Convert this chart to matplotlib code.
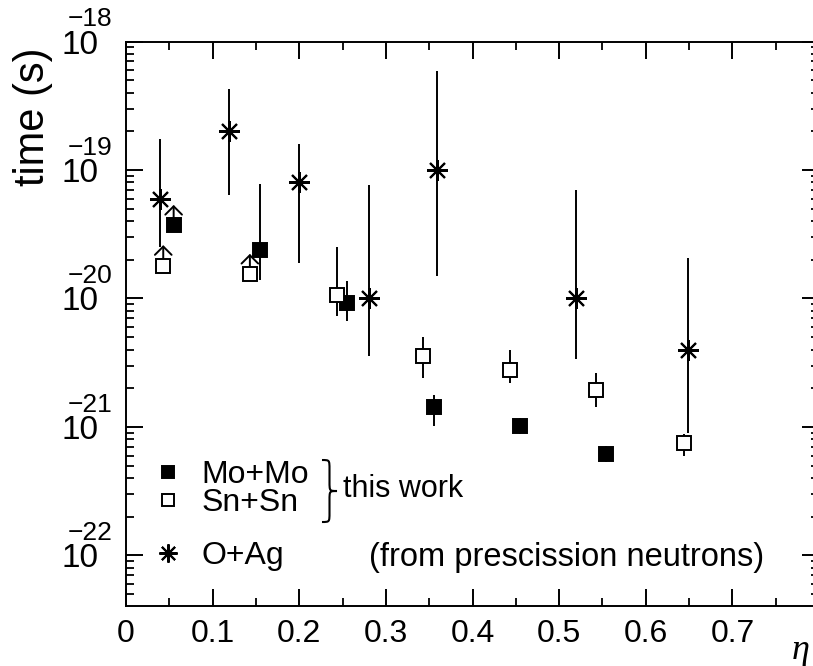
#!/usr/bin/env python

"""
Fission time vs. eta for Mo+Mo, Sn+Sn (this work) and O+Ag (prescission neutrons).
"""

import numpy as np
import matplotlib
matplotlib.use('Agg')
import matplotlib.pyplot as plt
from matplotlib.path import Path
from matplotlib.patches import PathPatch
from matplotlib.ticker import MultipleLocator, LogLocator, FixedLocator, NullFormatter

plt.rcParams.update({
    'figure.dpi': 100,
    'figure.figsize': (8.13, 6.66),
    'font.family': 'Liberation Sans',
    'font.size': 23,
    'axes.linewidth': 1.4,
    'xtick.major.width': 1.4,
    'ytick.major.width': 1.4,
    'xtick.minor.width': 1.3,
    'ytick.minor.width': 1.3,
    'lines.linewidth': 1.4,
})

nan = np.nan

# Mo+Mo (filled squares)
mo_eta = [0.055, 0.155, 0.255, 0.356, 0.455, 0.554]
mo_time = [3.7e-20, 2.4e-20, 9.2e-21, 1.44e-21, 1.02e-21, 6.2e-22]
mo_low = [nan, 1.39e-20, 6.7e-21, 1.02e-21, 8.9e-22, 5.3e-22]
mo_high = [nan, 7.8e-20, 1.37e-20, 1.77e-21, 1.17e-21, 7.1e-22]
mo_lowlim = [True, False, False, False, False, False]

# Sn+Sn (open squares)
sn_eta = [0.043, 0.143, 0.244, 0.343, 0.443, 0.543, 0.644]
sn_time = [1.8e-20, 1.54e-20, 1.06e-20, 3.6e-21, 2.8e-21, 1.94e-21, 7.5e-22]
sn_low = [nan, nan, 7.3e-21, 2.4e-21, 2.2e-21, 1.44e-21, 5.9e-22]
sn_high = [nan, nan, 2.5e-20, 5.0e-21, 4.0e-21, 2.65e-21, 8.9e-22]
sn_lowlim = [True, True, False, False, False, False, False]

# O+Ag (from prescission neutrons)
oag_eta = [0.039, 0.119, 0.200, 0.280, 0.359, 0.519, 0.649]
oag_time = [6e-20, 2e-19, 8e-20, 1e-20, 1e-19, 1e-20, 4e-21]
oag_low = [2.5e-20, 6.4e-20, 1.9e-20, 3.6e-21, 1.5e-20, 3.4e-21, 9e-22]
oag_high = [1.73e-19, 4.3e-19, 1.58e-19, 7.6e-20, 5.9e-19, 7e-20, 2.06e-20]

xticks = [0, 0.1, 0.2, 0.3, 0.4, 0.5, 0.6, 0.7]
xticklabels = ['0', '0.1', '0.2', '0.3', '0.4', '0.5', '0.6', '0.7']
decades = [-22, -21, -20, -19, -18]

ARROW_DEC = 0.16  # length of the lower-limit arrows, in decades


def yerr(t, lo, hi):
    t, lo, hi = map(np.asarray, (t, lo, hi))
    return np.vstack([t - lo, hi - t])


def lower_limits(ax, eta, t, flags):
    for x, y, f in zip(eta, t, flags):
        if f:
            ax.annotate('', xy=(x, y * 10**ARROW_DEC), xytext=(x, y),
                        arrowprops=dict(arrowstyle='->, head_length=0.3, head_width=0.3',
                                        lw=1.4, color='k', shrinkA=0, shrinkB=0,
                                        mutation_scale=20),
                        zorder=1.5)


def brace(ax, x0, xt, ybot, ytop, lw=1.5):
    xm = 0.5 * (x0 + xt)
    ym = 0.5 * (ybot + ytop)
    h = ytop - ym
    verts = [(x0, ytop), (xm, ytop), (xm, ytop), (xm, ytop - 0.3 * h),
             (xm, ym + 0.3 * h),
             (xm, ym), (xm, ym), (xt, ym),
             (xm, ym), (xm, ym), (xm, ym - 0.3 * h),
             (xm, ybot + 0.3 * h),
             (xm, ybot), (xm, ybot), (x0, ybot)]
    codes = [Path.MOVETO, Path.CURVE4, Path.CURVE4, Path.CURVE4,
             Path.LINETO,
             Path.CURVE4, Path.CURVE4, Path.CURVE4,
             Path.CURVE4, Path.CURVE4, Path.CURVE4,
             Path.LINETO,
             Path.CURVE4, Path.CURVE4, Path.CURVE4]
    ax.add_patch(PathPatch(Path(verts, codes), fill=False, lw=lw, color='k',
                           transform=ax.transAxes, clip_on=False))


fig = plt.figure()
ax = fig.add_axes([126 / 813, 60 / 666, 693 / 813, 564.5 / 666])

ax.errorbar(oag_eta, oag_time, yerr=yerr(oag_time, oag_low, oag_high),
            fmt='none', ecolor='k', elinewidth=1.4, capsize=0, zorder=1)
m_oag, = ax.plot(oag_eta, oag_time, ls='none', marker=(8, 2, 0), ms=15, mew=1.5,
                 color='k', zorder=3, label='O+Ag')

ax.errorbar(mo_eta, mo_time, yerr=yerr(mo_time, mo_low, mo_high),
            fmt='none', ecolor='k', elinewidth=1.4, capsize=0, zorder=1)
m_mo, = ax.plot(mo_eta, mo_time, ls='none', marker='s', ms=10.5, mfc='k', mec='k',
                mew=1.4, zorder=3, label='Mo+Mo')

ax.errorbar(sn_eta, sn_time, yerr=yerr(sn_time, sn_low, sn_high),
            fmt='none', ecolor='k', elinewidth=1.4, capsize=0, zorder=1)
m_sn, = ax.plot(sn_eta, sn_time, ls='none', marker='s', ms=10.5, mfc='white', mec='k',
                mew=1.4, zorder=3, label='Sn+Sn')

lower_limits(ax, mo_eta, mo_time, mo_lowlim)
lower_limits(ax, sn_eta, sn_time, sn_lowlim)

# axes
ax.set_xlim(0, 0.8)
ax.set_yscale('log')
ax.set_ylim(10**-22.393, 1e-18)

ax.xaxis.set_major_locator(FixedLocator(xticks))
ax.set_xticklabels(xticklabels)
ax.xaxis.set_minor_locator(MultipleLocator(0.05))

ax.yaxis.set_major_locator(FixedLocator([10.0**d for d in decades]))
ax.set_yticklabels(['10'] * len(decades))
ax.yaxis.set_minor_locator(LogLocator(base=10, subs=np.arange(2, 10)))
ax.yaxis.set_minor_formatter(NullFormatter())

ax.tick_params(which='both', direction='in', top=True, right=True)
ax.tick_params(which='major', length=12.5)
ax.tick_params(which='minor', length=6)
ax.tick_params(axis='x', which='major', labelsize=23, pad=9.5)
ax.tick_params(axis='y', which='major', labelsize=24, pad=20)

# ROOT-like exponents above the "10"
for d in decades:
    ax.annotate('\u2212%d' % abs(d), xy=(0, 10.0**d), xycoords=('axes fraction', 'data'),
                xytext=(-42, 16), textcoords='offset points', ha='left', va='center',
                fontsize=19)

ax.set_ylabel('time (s)', fontsize=30, loc='top')
ax.yaxis.set_label_coords(-0.105, 0.99)
ax.set_xlabel('\u03b7', fontsize=26, family='Liberation Serif', style='italic')
ax.xaxis.set_label_coords(0.974, -0.05)

# legend
leg_kw = dict(frameon=False, borderpad=0, borderaxespad=0, handlelength=1.0,
              handletextpad=0.53, fontsize=23, markerscale=0.88, loc='center left')
leg1 = ax.legend(handles=[m_mo, m_sn], labelspacing=-0.05,
                 bbox_to_anchor=(0.038, 0.2073), **leg_kw)
ax.add_artist(leg1)
ax.legend(handles=[m_oag], bbox_to_anchor=(0.038, 0.0886), **leg_kw)

brace(ax, 0.2828, 0.3045, 0.1488, 0.2586)
ax.text(0.313, 0.207, 'this work', transform=ax.transAxes, ha='left', va='center',
        fontsize=22)
ax.text(0.3506, 0.0868, '(from prescission neutrons)', transform=ax.transAxes,
        ha='left', va='center', fontsize=23.5)

plt.savefig('out.png', dpi=100)
